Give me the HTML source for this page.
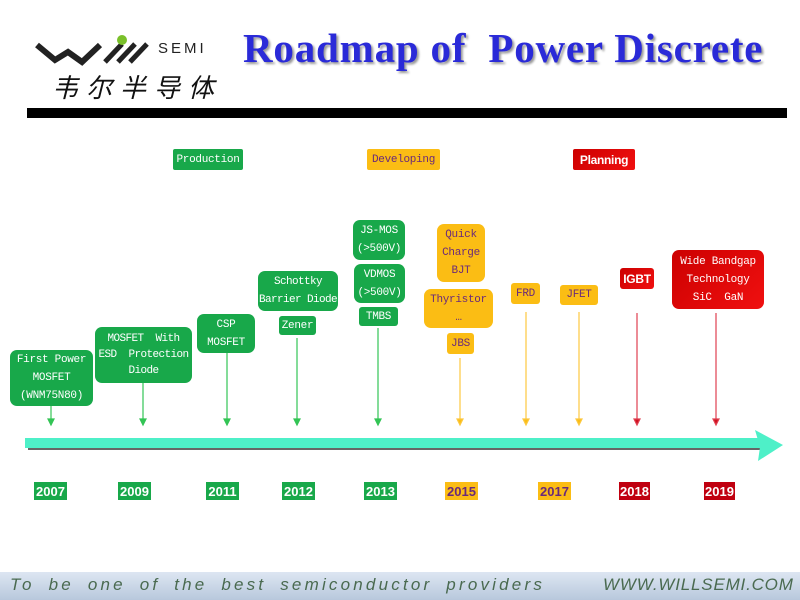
<!DOCTYPE html>
<html><head><meta charset="utf-8"><style>
body{margin:0;width:800px;height:600px;background:#fff;position:relative;overflow:hidden;font-family:"Liberation Mono","Noto Sans CJK SC",monospace}
.b{position:absolute;box-sizing:border-box;border-radius:7px;display:flex;align-items:center;justify-content:center;text-align:center;font-size:11px;line-height:18px;white-space:nowrap;letter-spacing:-0.3px}
.g{background:#18a84a;color:#fff}
.o{background:#fbbd14;color:#6a2a7a}
.r{background:linear-gradient(135deg,#c00,#f01010);color:#fff}
.y{position:absolute;top:482px;height:18px;width:33px;font:bold 13px "Liberation Sans",sans-serif;display:flex;align-items:center;justify-content:center}
</style></head><body>
<svg width="800" height="600" style="position:absolute;left:0;top:0">
<path d="M37 45 L55 60 L68 52 L82 62 L100 45" stroke="#222" stroke-width="6" fill="none"/>
<path d="M105 62 L122 44 M118 62 L135 44 M130 62 L147 44" stroke="#222" stroke-width="5"/>
<circle cx="122" cy="40" r="5" fill="#7ac02a"/>
<rect x="27" y="108" width="760" height="10" fill="#000"/>
<rect x="28" y="445" width="735" height="5" fill="#666"/>
<rect x="25" y="438" width="735" height="10" fill="#4ef0c8"/>
<polygon points="755,430 783,445 758,461 760,447" fill="#4ef0c8"/>
<g stroke-width="1.2">
<g stroke="#33c455" fill="#33c455">
<line x1="51" y1="406" x2="51" y2="424"/><polygon points="48,419 54,419 51,425"/>
<line x1="143" y1="383" x2="143" y2="424"/><polygon points="140,419 146,419 143,425"/>
<line x1="227" y1="353" x2="227" y2="424"/><polygon points="224,419 230,419 227,425"/>
<line x1="297" y1="338" x2="297" y2="424"/><polygon points="294,419 300,419 297,425"/>
<line x1="378" y1="328" x2="378" y2="424"/><polygon points="375,419 381,419 378,425"/>
</g>
<g stroke="#fcc840" fill="#fbbd14">
<line x1="460" y1="358" x2="460" y2="424"/><polygon points="457,419 463,419 460,425"/>
<line x1="526" y1="312" x2="526" y2="424"/><polygon points="523,419 529,419 526,425"/>
<line x1="579" y1="312" x2="579" y2="424"/><polygon points="576,419 582,419 579,425"/>
</g>
<g stroke="#e04050" fill="#d01020">
<line x1="637" y1="313" x2="637" y2="424"/><polygon points="634,419 640,419 637,425"/>
<line x1="716" y1="313" x2="716" y2="424"/><polygon points="713,419 719,419 716,425"/>
</g></g>
</svg>
<div style="position:absolute;left:158px;top:40px;font:15px 'Liberation Sans',sans-serif;letter-spacing:3px;color:#222">SEMI</div>
<div style="position:absolute;left:52px;top:68px;font:italic 26px 'Noto Sans CJK SC',sans-serif;letter-spacing:8px;color:#111">韦尔半导体</div>
<div style="position:absolute;left:243px;top:24px;font:bold 41px 'Liberation Serif',serif;color:#2a2ad8;text-shadow:2px 2px 2px #999;white-space:nowrap;letter-spacing:0.8px">Roadmap of &nbsp;Power Discrete</div>

<div class="b g" style="left:173px;top:149px;width:70px;height:21px;border-radius:2px">Production</div>
<div class="b o" style="left:367px;top:149px;width:73px;height:21px;border-radius:2px">Developing</div>
<div class="b r" style="left:573px;top:149px;width:62px;height:21px;border-radius:2px;font:bold 12px 'Liberation Sans',sans-serif">Planning</div>

<div class="b g" style="left:10px;top:350px;width:83px;height:56px">First Power<br>MOSFET<br>(WNM75N80)</div>
<div class="b g" style="left:95px;top:327px;width:97px;height:56px;line-height:16px;letter-spacing:-0.6px">MOSFET &nbsp;With<br>ESD &nbsp;Protection<br>Diode</div>
<div class="b g" style="left:197px;top:314px;width:58px;height:39px">CSP<br>MOSFET</div>
<div class="b g" style="left:258px;top:271px;width:80px;height:40px;letter-spacing:-0.6px">Schottky<br>Barrier Diode</div>
<div class="b g" style="left:279px;top:316px;width:37px;height:19px;border-radius:3px">Zener</div>
<div class="b g" style="left:353px;top:220px;width:52px;height:40px">JS-MOS<br>(&gt;500V)</div>
<div class="b g" style="left:354px;top:264px;width:51px;height:39px">VDMOS<br>(&gt;500V)</div>
<div class="b g" style="left:359px;top:307px;width:39px;height:19px;border-radius:3px">TMBS</div>
<div class="b o" style="left:437px;top:224px;width:48px;height:58px">Quick<br>Charge<br>BJT</div>
<div class="b o" style="left:424px;top:289px;width:69px;height:39px">Thyristor<br>…</div>
<div class="b o" style="left:447px;top:333px;width:27px;height:21px;border-radius:3px">JBS</div>
<div class="b o" style="left:511px;top:283px;width:29px;height:21px;border-radius:3px">FRD</div>
<div class="b o" style="left:560px;top:285px;width:38px;height:20px;border-radius:3px">JFET</div>
<div class="b r" style="left:620px;top:268px;width:34px;height:21px;border-radius:3px;font:bold 12px 'Liberation Sans',sans-serif">IGBT</div>
<div class="b r" style="left:672px;top:250px;width:92px;height:59px;line-height:18px">Wide Bandgap<br>Technology<br>SiC &nbsp;GaN</div>

<div class="y" style="left:34px;background:#18a84a;color:#fff">2007</div>
<div class="y" style="left:118px;background:#18a84a;color:#fff">2009</div>
<div class="y" style="left:206px;background:#18a84a;color:#fff">2011</div>
<div class="y" style="left:282px;background:#18a84a;color:#fff">2012</div>
<div class="y" style="left:364px;background:#18a84a;color:#fff">2013</div>
<div class="y" style="left:445px;background:#fbbd14;color:#6a2a7a">2015</div>
<div class="y" style="left:538px;background:#fbbd14;color:#6a2a7a">2017</div>
<div class="y" style="left:619px;background:#c00010;color:#fff;width:31px">2018</div>
<div class="y" style="left:704px;background:#c00010;color:#fff;width:31px">2019</div>

<div style="position:absolute;left:0;top:572px;width:800px;height:28px;background:linear-gradient(#dde6f2,#b8c8dc)"></div>
<div style="position:absolute;left:10px;top:575px;font:italic 17px 'Liberation Sans',sans-serif;color:#4a6a50;letter-spacing:3.2px;word-spacing:6px;white-space:nowrap">To be one of the best semiconductor providers</div>
<div style="position:absolute;left:603px;top:575px;font:italic 17px 'Liberation Sans',sans-serif;color:#4a6a50;white-space:nowrap;letter-spacing:0.8px">WWW.WILLSEMI.COM</div>
</body></html>
